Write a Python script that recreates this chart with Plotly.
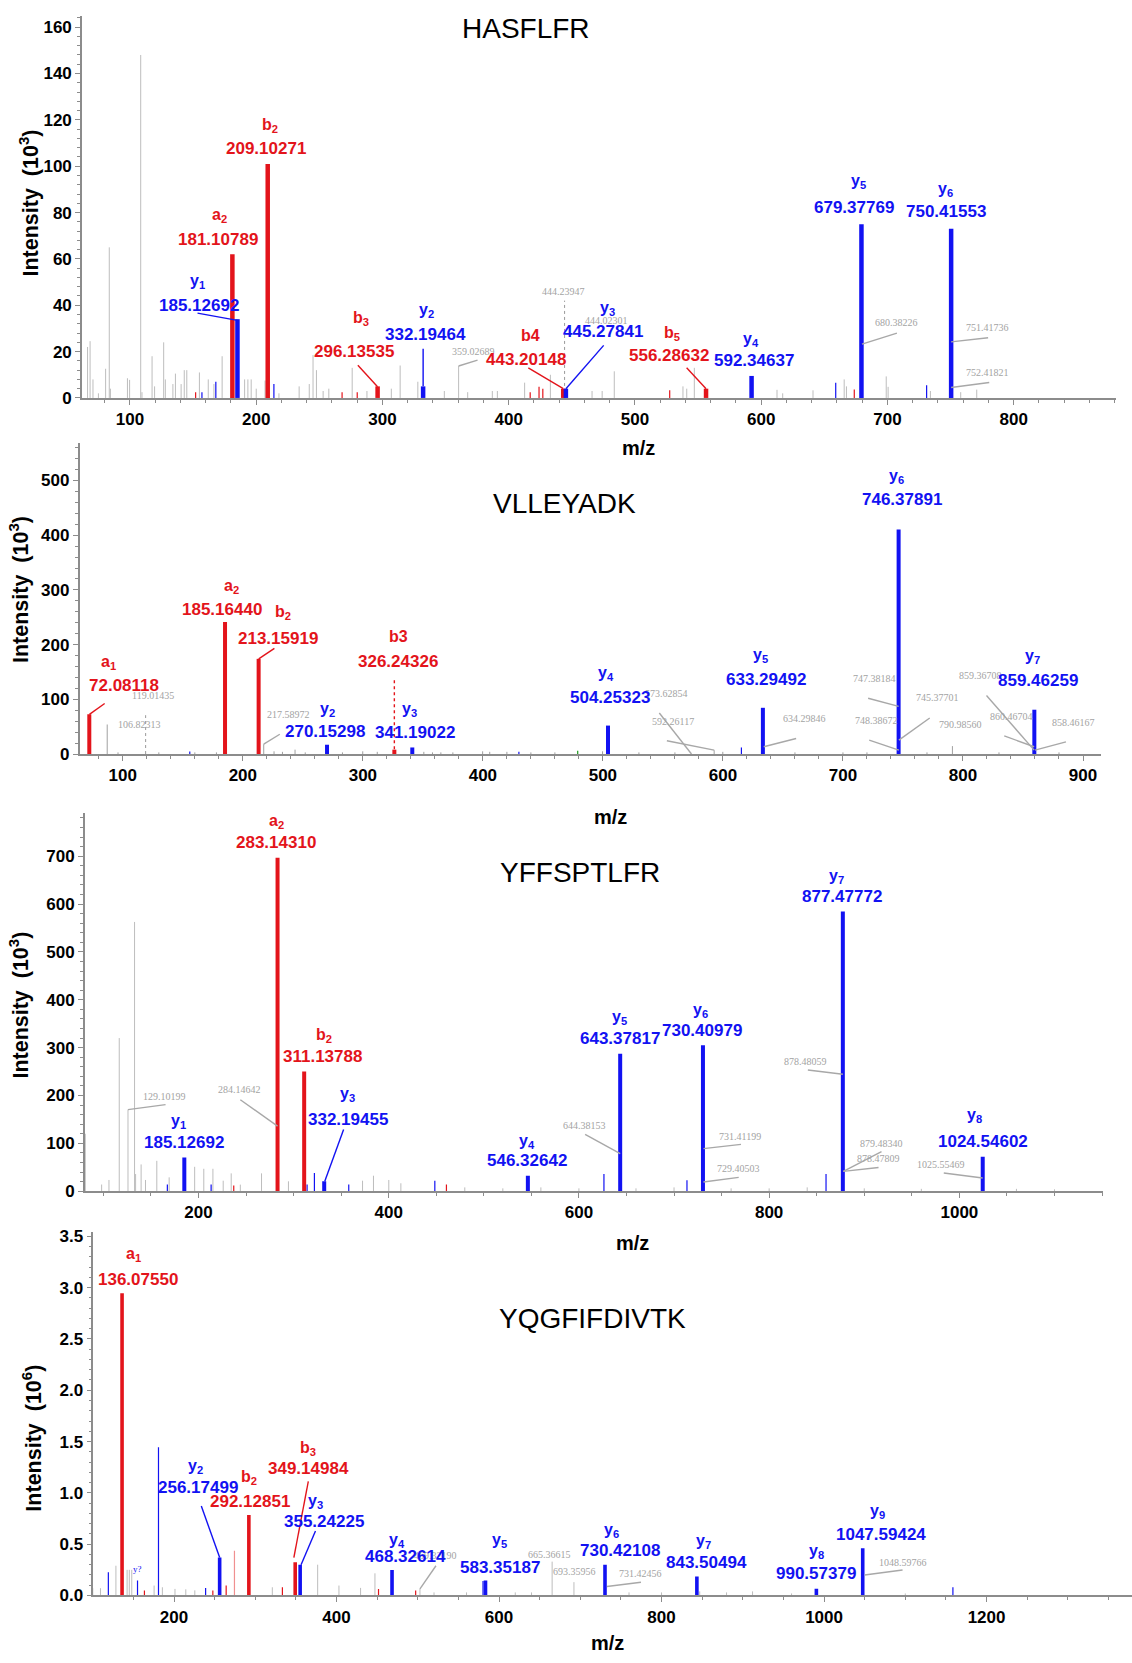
import plotly.graph_objects as go

# ------------------------------------------------------------------ DATA
# ---- Panel 1: HASFLFR (intensity x10^3)
P1_TITLE = "HASFLFR"
P1_ION_NAME = ["a<sub>2</sub>", "b<sub>2</sub>", "y<sub>1</sub>", "b<sub>3</sub>", "y<sub>2</sub>", "b4",
               "y<sub>3</sub>", "b<sub>5</sub>", "y<sub>4</sub>", "y<sub>5</sub>", "y<sub>6</sub>"]
P1_ION_MZ = [181.10789, 209.10271, 185.12692, 296.13535, 332.19464, 443.20148,
             445.27841, 556.28632, 592.34637, 679.37769, 750.41553]
P1_ION_INT = [62, 101, 34, 5, 5, 4, 4, 4, 9.5, 75, 73]
P1_NOTE_TEXT = ["359.02689", "444.23947", "444.02301", "680.38226", "751.41736", "752.41821"]
P1_NOISE_MZ = [66.4, 68.4, 70.7, 75, 80.7, 83.6, 84.5, 98, 99.7, 108.5, 109.5, 117.5, 119.5, 126.7, 128,
               134, 136, 140.5, 143, 145, 155, 162, 166.5, 173, 190.8, 193.4, 196, 200, 207, 218, 234,
               242, 245, 247.7, 253, 257.5, 276, 287.7, 307, 314, 328, 349, 360.3, 367.5, 387, 391,
               412.6, 433, 466, 474, 483.6, 538, 541, 547, 612.5, 617, 641, 665.7, 667.5, 699, 700.5,
               734, 758, 770.7]
P1_NOISE_INT = [22, 24.5, 8, 2, 12.6, 65, 4, 8.5, 7.8, 148, 2.5, 18, 5, 24, 8,
                6, 10.5, 6, 12, 12, 11, 8, 6, 18, 8, 8, 8, 4, 7.5, 2, 5,
                6, 18.5, 12, 3, 4, 13, 3, 4, 14, 7, 3, 13.8, 2.5, 3, 3,
                6.6, 10, 3, 3, 11.5, 5, 4, 13, 3.5, 2, 3.3, 8, 5, 9.3, 4.8,
                3, 2.5, 3.6]
P1_RED_MZ = [152, 268, 280, 417, 424, 427, 527.5, 673.7]
P1_RED_INT = [2.5, 2.5, 2.5, 2.5, 4.8, 4, 3.3, 3.6]
P1_BLUE_MZ = [157, 168, 214, 659, 731]
P1_BLUE_INT = [2.5, 7, 6, 6.6, 5.5]
P1_DASH_MZ = [444.23947]
P1_DASH_INT = [42]

# ---- Panel 2: VLLEYADK (intensity x10^3)
P2_TITLE = "VLLEYADK"
P2_ION_NAME = ["a<sub>1</sub>", "a<sub>2</sub>", "b<sub>2</sub>", "y<sub>2</sub>", "b3", "y<sub>3</sub>",
               "y<sub>4</sub>", "y<sub>5</sub>", "y<sub>6</sub>", "y<sub>7</sub>"]
P2_ION_MZ = [72.08118, 185.16440, 213.15919, 270.15298, 326.24326, 341.19022,
             504.25323, 633.29492, 746.37891, 859.46259]
P2_ION_INT = [72.5, 241.5, 174, 17, 8, 12, 52, 84.5, 410.6, 81]
P2_NOTE_TEXT = ["119.01435", "106.82313", "217.58972", "573.62854", "592.26117", "634.29846",
                "747.38184", "745.37701", "748.38672", "790.98560", "859.36708", "860.46704", "858.46167"]
P2_NOISE_MZ = [87, 96, 130, 160, 178, 217.4, 226, 233, 243.5, 252, 283, 299.9, 312, 350.8, 358, 365,
               375, 399.8, 405.7, 420, 440, 460, 499.7, 530, 560, 592.7, 599.9, 660, 700, 720, 770,
               791.2, 830, 880]
P2_NOISE_INT = [54, 3, 3, 3, 3, 18, 5, 4, 8, 3, 3, 5, 4, 4, 3, 3,
                3, 5, 4, 4, 3, 3, 5, 3, 3, 7, 4, 3, 3, 3, 3,
                14.5, 3, 3]
P2_BLUE_MZ = [155.8, 430, 615.4]
P2_BLUE_INT = [4.8, 4, 12]
P2_GREEN_MZ = [479]
P2_GREEN_INT = [6]
P2_DOT_MZ = [119.01435]
P2_DOT_INT = [71]

# ---- Panel 3: YFFSPTLFR (intensity x10^3)
P3_TITLE = "YFFSPTLFR"
P3_ION_NAME = ["y<sub>1</sub>", "a<sub>2</sub>", "b<sub>2</sub>", "y<sub>3</sub>", "y<sub>4</sub>",
               "y<sub>5</sub>", "y<sub>6</sub>", "y<sub>7</sub>", "y<sub>8</sub>"]
P3_ION_MZ = [185.12692, 283.14310, 311.13788, 332.19455, 546.32642, 643.37817, 730.40979,
             877.47772, 1024.54602]
P3_ION_INT = [70.4, 697, 250, 20.7, 32.4, 287.2, 305.1, 584.7, 71.8]
P3_NOTE_TEXT = ["129.10199", "284.14642", "644.38153", "731.41199", "729.40503", "878.48059",
                "879.48340", "878.47809", "1025.55469"]
P3_NOISE_MZ = [81, 98.2, 105.9, 116.7, 125.9, 132.8, 133.9, 139.7, 144.3, 156.2, 169.2, 196, 205.6,
               215.2, 226, 234.4, 244, 266.3, 294.6, 372.5, 384, 400.1, 412.8, 480, 520, 560, 600,
               660, 700, 760, 800, 840, 900, 960, 1060, 1100]
P3_NOISE_INT = [120, 14, 23.5, 320, 170.5, 562.6, 35.9, 56, 23.5, 63.5, 29, 51, 46.9,
                46.9, 22, 37.3, 13.8, 37.3, 20.7, 22, 32.4, 23.5, 16.6, 8, 6, 8, 6,
                6, 8, 6, 6, 8, 6, 5, 5, 4]
P3_BLUE_MZ = [167.3, 213.3, 314.2, 321.9, 358, 448.5, 626.3, 713.6, 859.8]
P3_BLUE_INT = [13.8, 13.8, 13.8, 37.9, 13.8, 22, 36, 23, 36]
P3_RED_MZ = [237.1, 460.7]
P3_RED_INT = [11.7, 13.8]

# ---- Panel 4: YQGFIFDIVTK (intensity x10^6)
P4_TITLE = "YQGFIFDIVTK"
P4_ION_NAME = ["a<sub>1</sub>", "y<sub>2</sub>", "b<sub>2</sub>", "b<sub>3</sub>", "y<sub>3</sub>",
               "y<sub>4</sub>", "y<sub>5</sub>", "y<sub>6</sub>", "y<sub>7</sub>", "y<sub>8</sub>",
               "y<sub>9</sub>"]
P4_ION_MZ = [136.07550, 256.17499, 292.12851, 349.14984, 355.24225, 468.32614, 583.35187,
             730.42108, 843.50494, 990.57379, 1047.59424]
P4_ION_INT = [2.945, 0.371, 0.784, 0.323, 0.30, 0.248, 0.145, 0.30, 0.184, 0.065, 0.461]
P4_NOTE_TEXT = ["469.32190", "665.36615", "693.35956", "731.42456", "1048.59766"]
P4_TINY_TEXT = ["y?"]
P4_NOISE_MZ = [100.2, 109.5, 128.5, 142.3, 145, 148, 175.5, 185.7, 201.2, 214.5, 225.6, 321, 376.8,
               403, 429.6, 447.3, 502.7, 520, 560, 620, 640, 665.37, 692.2, 760, 800, 847, 880, 912,
               960, 1100]
P4_NOISE_INT = [0.071, 0.071, 0.29, 0.25, 0.25, 0.25, 0.097, 0.08, 0.064, 0.06, 0.05, 0.08, 0.3,
                0.097, 0.074, 0.216, 0.065, 0.03, 0.03, 0.03, 0.03, 0.33, 0.13, 0.03, 0.03, 0.04,
                0.03, 0.04, 0.02, 0.02]
P4_BLUE_MZ = [119.2, 155.1, 180.9, 238.9, 580.3, 1158.6]
P4_BLUE_INT = [0.226, 0.145, 1.445, 0.074, 0.14, 0.08]
P4_RED_MZ = [163.6, 247.8, 264.2, 333.4, 451.7, 497.4]
P4_RED_INT = [0.048, 0.048, 0.097, 0.08, 0.064, 0.048]
P4_PINK_MZ = [274.4]
P4_PINK_INT = [0.435]

# ------------------------------------------------------------------ LABEL PLACEMENT (layout only)
# (number_x, number_y, ion_x, ion_y, leader) ; leader = (start_x, start_y, tip_x, tip_y[, dash])
P1_PLACE = [
    (169.8, 68.3, 170.7, 78.8, None),
    (208.0, 107.6, 210.6, 117.5, None),
    (154.6, 39.9, 153.2, 50.4, (153.5, 36.6, 185.1, 33.5)),
    (277.6, 20.2, 282.8, 34.4, (280.5, 14.1, 296.1, 4.8)),
    (334.2, 27.5, 335.0, 37.7, (332.2, 21.2, 332.2, 5.0)),
    (414.0, 16.7, 417.0, 26.8, (415.5, 13.0, 443.2, 4.0)),
    (474.6, 28.7, 478.2, 38.7, (475.2, 22.7, 445.3, 4.0)),
    (526.9, 18.2, 529.6, 28.0, (540.9, 13.0, 556.3, 4.0)),
    (594.6, 16.0, 592.2, 25.4, None),
    (673.1, 82.2, 676.7, 93.4, None),
    (746.3, 80.3, 746.3, 90.0, None),
]
P1_NOTE_PLACE = [
    (371.8, 20.0, (375.3, 16.3, 360.3, 13.8)),
    (443.5, 45.9, None),
    (477.6, 33.5, None),
    (707.5, 32.4, (707.5, 28.0, 679.8, 23.2)),
    (779.1, 30.2, (779.7, 26.0, 750.4, 24.2)),
    (779.1, 10.8, (780.6, 6.7, 750.4, 4.5)),
]
P2_PLACE = [
    (100.9, 124.4, 87.9, 166.7, (84.9, 92.4, 72.2, 72.5)),
    (182.4, 264.5, 190.7, 306.8, None),
    (229.3, 211.4, 233.1, 258.5, (226.3, 193.2, 213.2, 174.0)),
    (268.7, 41.1, 270.2, 82.1, None),
    (328.9, 169.1, 329.5, 215.0, (326.24, 134.7, 326.24, 8.0, "dot")),
    (343.4, 39.9, 339.0, 82.1, None),
    (506.0, 103.9, 502.2, 147.3, None),
    (635.8, 137.1, 631.4, 179.3, None),
    (749.3, 464.4, 744.9, 507.2, None),
    (862.8, 135.3, 858.1, 177.5, None),
]
P2_NOTE_PLACE = [
    (125.5, 107.5, None),
    (113.7, 53.1, None),
    (238.2, 72.5, (230.8, 36.2, 217.4, 18.1)),
    (553.3, 109.9, (547.0, 74.9, 573.8, 0.0)),
    (558.0, 59.8, (553.3, 24.2, 592.7, 7.2)),
    (667.7, 64.6, (661.0, 28.4, 634.0, 13.3)),
    (726.6, 138.9, (721.0, 102.0, 746.4, 87.0)),
    (778.6, 103.9, (772.3, 65.8, 746.6, 25.4)),
    (727.6, 61.6, (721.9, 25.4, 746.6, 7.2)),
    (797.6, 54.3, None),
    (814.9, 143.1, (819.6, 106.9, 859.3, 7.2)),
    (840.1, 68.8, (834.4, 33.2, 859.3, 13.3)),
    (892.1, 57.4, (885.8, 22.3, 860.0, 7.2)),
]
P3_PLACE = [
    (184.4, 101.5, 179.4, 146.3, None),
    (281.2, 727.6, 282.4, 773.2, None),
    (330.3, 281.0, 332.2, 325.8, None),
    (357.2, 149.8, 357.2, 201.6, (352.6, 129.1, 332.8, 20.7)),
    (545.2, 63.5, 545.6, 104.9, None),
    (643.0, 318.9, 643.0, 363.8, None),
    (729.5, 336.2, 727.6, 377.6, None),
    (876.5, 615.8, 870.5, 658.6, None),
    (1025.3, 103.5, 1016.2, 158.8, None),
]
P3_NOTE_PLACE = [
    (164.6, 198.1, (165.4, 180.9, 125.9, 170.5)),
    (243.2, 211.9, (244.0, 191.2, 283.1, 136.0)),
    (605.7, 138.1, (606.5, 118.7, 643.4, 78.7)),
    (769.2, 115.3, (770.4, 98.0, 730.9, 89.0)),
    (768.0, 48.3, (768.0, 29.0, 730.9, 19.3)),
    (838.7, 270.6, (840.7, 253.3, 877.5, 244.4)),
    (918.1, 100.1, (918.1, 82.8, 878.0, 41.4)),
    (915.0, 69.0, (915.0, 49.7, 878.0, 41.4)),
    (980.9, 56.6, (983.6, 38.0, 1024.5, 27.6)),
]
P4_PLACE = [
    (155.6, 3.081, 150.3, 3.323, None),
    (230.1, 1.048, 227.0, 1.258, (233.6, 0.871, 256.2, 0.371)),
    (293.5, 0.919, 292.1, 1.145, None),
    (365.3, 1.242, 365.3, 1.435, (365.3, 1.113, 347.5, 0.37)),
    (385.2, 0.719, 374.1, 0.919, (374.1, 0.629, 356.4, 0.30)),
    (485.0, 0.377, 473.9, 0.539, None),
    (601.6, 0.268, 600.2, 0.539, None),
    (749.1, 0.435, 738.8, 0.629, None),
    (855.4, 0.323, 851.7, 0.523, None),
    (990.7, 0.210, 990.2, 0.429, None),
    (1070.0, 0.597, 1066.2, 0.823, None),
]
P4_NOTE_PLACE = [
    (522.4, 0.386, (522.4, 0.29, 502.7, 0.065)),
    (662.3, 0.403, None),
    (693.1, 0.235, None),
    (774.7, 0.210, (774.7, 0.129, 732.8, 0.087)),
    (1096.6, 0.323, (1096.6, 0.248, 1049.9, 0.20)),
]
P4_TINY_PLACE = [(154.7, 0.258)]

# ------------------------------------------------------------------ STYLE / GEOMETRY
W, H = 1132, 1663
RED = "#e3141b"
BLUE = "#1212f2"
GRAY_PEAK = "#bdbdbd"
GRAY_TEXT = "#a3a3a3"
GRAY_LEAD = "#a8a8a8"
AXIS = "#8c8c8c"
SANS = "Liberation Sans, Arial, Helvetica, sans-serif"
SERIF = "Liberation Serif, Times New Roman, serif"

# pixel boxes (left, right, top, bottom) and ranges
GEOM = {
    1: dict(box=(82, 1116, 11.7, 397.3), xr=(62, 881), yr=(0, 165), xd=100, xm=20, yd=20, ym=4, yfmt=""),
    2: dict(box=(79.6, 1101, 443, 756.4), xr=(64, 915), yr=(0, 568), xd=100, xm=20, yd=100, ym=20, yfmt=""),
    3: dict(box=(84.9, 1103, 816, 1197.3), xr=(80.6, 1151), yr=(0, 790), xd=200, xm=50, yd=100, ym=20, yfmt=""),
    4: dict(box=(93.4, 1132, 1238, 1605), xr=(100.8, 1379), yr=(0, 3.546), xd=200, xm=50, yd=0.5, ym=0.1, yfmt=".1f"),
}
TITLE_POS = {1: (526, 25), 2: (564.4, 504), 3: (580.3, 876.3), 4: (593, 1326)}
MZ_POS = {1: (638.7, 447.7), 2: (610, 820), 3: (632.3, 1249.7), 4: (607.9, 1652.9)}
YT_POS = {1: (28.6, 200.6), 2: (19.1, 590.9), 3: (19.1, 1010), 4: (31.8, 1446)}
YT_TEXT = {1: "Intensity\u00a0\u00a0(10<sup>3</sup>)", 2: "Intensity\u00a0\u00a0(10<sup>3</sup>)",
           3: "Intensity\u00a0\u00a0(10<sup>3</sup>)", 4: "Intensity\u00a0\u00a0(10<sup>6</sup>)"}
THICK = {1: 4.5, 2: 4.0, 3: 4.0, 4: 3.6}

PANELS = {
    1: dict(title=P1_TITLE, name=P1_ION_NAME, mz=P1_ION_MZ, inten=P1_ION_INT, place=P1_PLACE,
            notes=P1_NOTE_TEXT, note_place=P1_NOTE_PLACE,
            extra=[(P1_NOISE_MZ, P1_NOISE_INT, GRAY_PEAK, 1.0, "solid"),
                   (P1_RED_MZ, P1_RED_INT, RED, 1.2, "solid"),
                   (P1_BLUE_MZ, P1_BLUE_INT, BLUE, 1.2, "solid"),
                   (P1_DASH_MZ, P1_DASH_INT, "#9a9a9a", 1.0, "dot")]),
    2: dict(title=P2_TITLE, name=P2_ION_NAME, mz=P2_ION_MZ, inten=P2_ION_INT, place=P2_PLACE,
            notes=P2_NOTE_TEXT, note_place=P2_NOTE_PLACE,
            extra=[(P2_NOISE_MZ, P2_NOISE_INT, "#a0a0a0", 1.0, "solid"),
                   (P2_BLUE_MZ, P2_BLUE_INT, BLUE, 1.2, "solid"),
                   (P2_GREEN_MZ, P2_GREEN_INT, "#1a9a1a", 1.2, "solid"),
                   (P2_DOT_MZ, P2_DOT_INT, "#9a9a9a", 1.0, "dot")]),
    3: dict(title=P3_TITLE, name=P3_ION_NAME, mz=P3_ION_MZ, inten=P3_ION_INT, place=P3_PLACE,
            notes=P3_NOTE_TEXT, note_place=P3_NOTE_PLACE,
            extra=[(P3_NOISE_MZ, P3_NOISE_INT, GRAY_PEAK, 1.0, "solid"),
                   (P3_BLUE_MZ, P3_BLUE_INT, BLUE, 1.2, "solid"),
                   (P3_RED_MZ, P3_RED_INT, RED, 1.2, "solid")]),
    4: dict(title=P4_TITLE, name=P4_ION_NAME, mz=P4_ION_MZ, inten=P4_ION_INT, place=P4_PLACE,
            notes=P4_NOTE_TEXT, note_place=P4_NOTE_PLACE,
            extra=[(P4_NOISE_MZ, P4_NOISE_INT, GRAY_PEAK, 1.0, "solid"),
                   (P4_BLUE_MZ, P4_BLUE_INT, BLUE, 1.2, "solid"),
                   (P4_RED_MZ, P4_RED_INT, RED, 1.2, "solid"),
                   (P4_PINK_MZ, P4_PINK_INT, "#f09090", 1.2, "solid")]),
}

fig = go.Figure()
annotations = []


def ax_names(k):
    return ("x" if k == 1 else f"x{k}", "y" if k == 1 else f"y{k}")


def add_sticks(k, mz, inten, color, width, dash="solid"):
    xa, ya = ax_names(k)
    xs, ys = [], []
    for m, v in zip(mz, inten):
        xs += [m, m, None]
        ys += [0, v, None]
    fig.add_trace(go.Scatter(x=xs, y=ys, mode="lines", line=dict(color=color, width=width, dash=dash),
                             hoverinfo="skip", showlegend=False, xaxis=xa, yaxis=ya))


def add_leaders(k, leaders):
    xa, ya = ax_names(k)
    groups = {}
    for color, ld in leaders:
        dash = ld[4] if len(ld) > 4 else "solid"
        g = groups.setdefault((color, dash), ([], []))
        g[0].extend([ld[0], ld[2], None])
        g[1].extend([ld[1], ld[3], None])
    for (color, dash), (xs, ys) in groups.items():
        fig.add_trace(go.Scatter(x=xs, y=ys, mode="lines", line=dict(color=color, width=1.4, dash=dash),
                                 hoverinfo="skip", showlegend=False, xaxis=xa, yaxis=ya))


def ion_color(name):
    return RED if name[0] in "ab" else BLUE


for k, P in PANELS.items():
    xa, ya = ax_names(k)
    for mz, inten, color, width, dash in P["extra"]:
        add_sticks(k, mz, inten, color, width, dash)
    reds = [(m, v) for n, m, v in zip(P["name"], P["mz"], P["inten"]) if ion_color(n) == RED]
    blues = [(m, v) for n, m, v in zip(P["name"], P["mz"], P["inten"]) if ion_color(n) == BLUE]
    add_sticks(k, [r[0] for r in reds], [r[1] for r in reds], RED, THICK[k])
    add_sticks(k, [b[0] for b in blues], [b[1] for b in blues], BLUE, THICK[k])
    leaders = []
    for (nx, ny, lead) in P["note_place"]:
        if lead:
            leaders.append((GRAY_LEAD, lead))
    for name, pl in zip(P["name"], P["place"]):
        if pl[4]:
            leaders.append((ion_color(name), pl[4]))
    add_leaders(k, leaders)
    for text, (nx, ny, lead) in zip(P["notes"], P["note_place"]):
        annotations.append(dict(x=nx, y=ny, xref=xa, yref=ya, text=text, showarrow=False,
                                font=dict(family=SERIF, size=10, color=GRAY_TEXT),
                                xanchor="center", yanchor="middle"))
    for name, mz, pl in zip(P["name"], P["mz"], P["place"]):
        col = ion_color(name)
        annotations.append(dict(x=pl[0], y=pl[1], xref=xa, yref=ya, text=f"<b>{mz:.5f}</b>",
                                showarrow=False, font=dict(family=SANS, size=17, color=col),
                                xanchor="center", yanchor="middle"))
        annotations.append(dict(x=pl[2], y=pl[3], xref=xa, yref=ya, text=f"<b>{name}</b>",
                                showarrow=False, font=dict(family=SANS, size=16, color=col),
                                xanchor="center", yanchor="middle"))

for text, (tx, ty) in zip(P4_TINY_TEXT, P4_TINY_PLACE):
    annotations.append(dict(x=tx, y=ty, xref="x4", yref="y4", text=text, showarrow=False,
                            font=dict(family=SERIF, size=9, color=BLUE), xanchor="center", yanchor="middle"))

for k in PANELS:
    tx, ty = TITLE_POS[k]
    annotations.append(dict(x=tx / W, y=1 - ty / H, xref="paper", yref="paper", text=PANELS[k]["title"],
                            showarrow=False, font=dict(family=SANS, size=28, color="black"),
                            xanchor="center", yanchor="middle"))
    mx, my = MZ_POS[k]
    annotations.append(dict(x=mx / W, y=1 - my / H, xref="paper", yref="paper", text="<b>m/z</b>",
                            showarrow=False, font=dict(family=SANS, size=20, color="black"),
                            xanchor="center", yanchor="middle"))
    yx, yy = YT_POS[k]
    annotations.append(dict(x=yx / W, y=1 - yy / H, xref="paper", yref="paper", text=f"<b>{YT_TEXT[k]}</b>",
                            showarrow=False, textangle=-90, font=dict(family=SANS, size=21.5, color="black"),
                            xanchor="center", yanchor="middle"))

layout = dict(width=W, height=H, margin=dict(l=0, r=0, t=0, b=0), paper_bgcolor="white",
              plot_bgcolor="white", hovermode=False, showlegend=False, annotations=annotations)

for k, G in GEOM.items():
    l, r, t, b = G["box"]
    xkey = "xaxis" if k == 1 else f"xaxis{k}"
    ykey = "yaxis" if k == 1 else f"yaxis{k}"
    xa, ya = ax_names(k)
    common = dict(showline=True, linecolor=AXIS, linewidth=1.6, ticks="outside", ticklen=5, tickwidth=1.3,
                  tickcolor=AXIS, showgrid=False, zeroline=False, fixedrange=True,
                  tickfont=dict(family=SANS, size=17, color="black", weight="bold"))
    layout[xkey] = dict(common, domain=[l / W, r / W], range=list(G["xr"]), anchor=ya, dtick=G["xd"],
                        tick0=0, minor=dict(ticks="outside", ticklen=3, tickcolor=AXIS, dtick=G["xm"],
                                            tick0=0, showgrid=False))
    layout[ykey] = dict(common, domain=[1 - b / H, 1 - t / H], range=list(G["yr"]), anchor=xa, dtick=G["yd"],
                        tick0=0, tickformat=G["yfmt"],
                        minor=dict(ticks="outside", ticklen=3, tickcolor=AXIS, dtick=G["ym"], tick0=0,
                                   showgrid=False))

fig.update_layout(**layout)
fig.write_html("out.html")
